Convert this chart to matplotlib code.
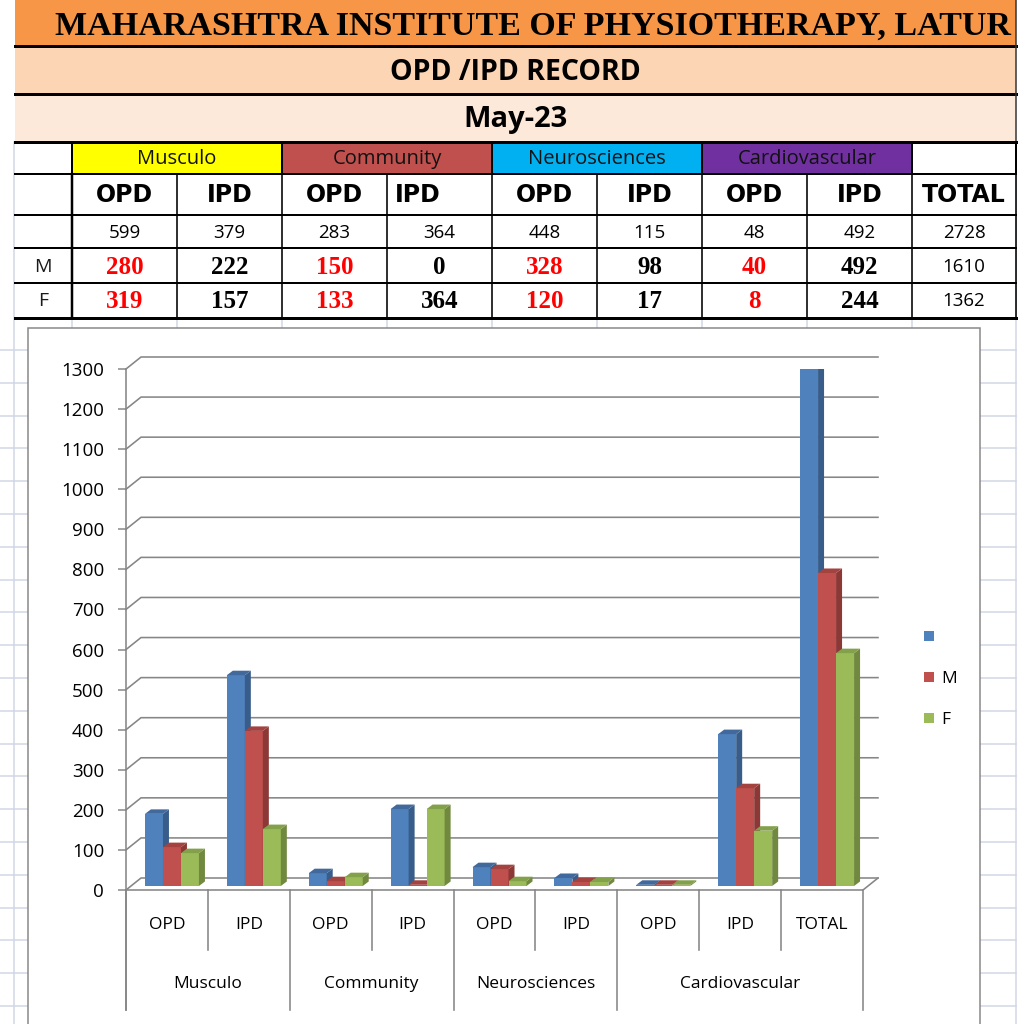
import matplotlib
matplotlib.use('Agg')
import matplotlib.pyplot as plt
from matplotlib.patches import Rectangle, Polygon

# ---------------- data ----------------
title = 'MAHARASHTRA INSTITUTE OF PHYSIOTHERAPY, LATUR'
subtitle = 'OPD /IPD RECORD'
month = 'May-23'
groups = ['Musculo', 'Community', 'Neurosciences', 'Cardiovascular']
group_colors = ['#FFFF00', '#C0504D', '#00B0F0', '#7030A0']
sub_headers = ['OPD', 'IPD', 'OPD', 'IPD', 'OPD', 'IPD', 'OPD', 'IPD', 'TOTAL']
row_labels = ['', 'M', 'F']
row_total = [599, 379, 283, 364, 448, 115, 48, 492, 2728]
row_m = [280, 222, 150, 0, 328, 98, 40, 492, 1610]
row_f = [319, 157, 133, 364, 120, 17, 8, 244, 1362]

chart_groups = ['Musculo', 'Community', 'Neurosciences', 'Cardiovascular']
chart_group_spans = [(0, 1), (2, 3), (4, 5), (6, 8)]
chart_cats = ['OPD', 'IPD', 'OPD', 'IPD', 'OPD', 'IPD', 'OPD', 'IPD', 'TOTAL']
series_names = ['', 'M', 'F']
series_all = [180, 526, 32, 192, 47, 20, 3, 379, 1295]
series_m = [97, 387, 12, 3, 42, 10, 3, 244, 781]
series_f = [82, 142, 22, 192, 12, 10, 3, 138, 581]
y_ticks = list(range(0, 1301, 100))

# ---------------- styles ----------------
plt.rcParams['font.family'] = ['Open Sans', 'DejaVu Sans']
front_cols = ['#4F81BD', '#C0504D', '#9BBB59']
side_cols = ['#385D8A', '#8C3836', '#71893F']
top_cols = ['#41699C', '#A3423F', '#83A04A']
grid_col = '#868686'
sheet_col = '#D0D7E5'

W = H = 1024
PT = 0.72  # points per pixel at dpi 100
fig = plt.figure(figsize=(W / 100, H / 100), dpi=100)
fig.patch.set_facecolor('white')

bg = fig.add_axes([0, 0, 1, 1])
bg.set_xlim(0, W)
bg.set_ylim(H, 0)
bg.axis('off')

# spreadsheet grid in background
y = 350.0
while y < H:
    bg.plot([0, 1016], [y, y], color=sheet_col, lw=1.5 * PT, zorder=0)
    y += 32.8
col_x = [15, 72, 177, 282, 387, 492, 597, 702, 807, 912, 1016]
for x in [14] + col_x[1:]:
    bg.plot([x, x], [142, H], color=sheet_col, lw=1.5 * PT, zorder=0)

# title rows
bands = [(0, 45, '#F79646'), (47, 93, '#FCD5B4'), (95, 141, '#FDE9D9')]
for (y0, y1, c) in bands:
    bg.add_patch(Rectangle((15, y0), 1001, y1 - y0, facecolor=c, edgecolor='none', zorder=1))
for yl in [45.5, 93.5, 141.5]:
    bg.plot([15, 1016], [yl, yl], color='black', lw=3 * PT, zorder=3)
bg.plot([1016, 1016], [0, 141], color='#333333', lw=1.5 * PT, zorder=3)
bg.text(533, 26, title, ha='center', va='center', fontsize=24.5, fontweight='bold',
        family='Liberation Serif', color='black', zorder=4)
bg.text(515, 72, subtitle, ha='center', va='center', fontsize=20.5, fontweight='bold', zorder=4)
bg.text(515, 119, month, ha='center', va='center', fontsize=21, fontweight='bold', zorder=4)

# table
row_y = [142, 174, 215, 248, 283, 318]
bg.add_patch(Rectangle((15, 142), 1001, 176, facecolor='white', edgecolor='none', zorder=1))
for g, (name, c) in enumerate(zip(groups, group_colors)):
    x0 = col_x[1 + 2 * g]
    x1 = col_x[3 + 2 * g]
    bg.add_patch(Rectangle((x0, 142), x1 - x0, 32, facecolor=c, edgecolor='none', zorder=2))
    bg.text((x0 + x1) / 2, 159, name, ha='center', va='center', fontsize=14.5,
            color='#111111', zorder=4)
for k, yl in enumerate(row_y):
    lw = 3 if k in (0, 5) else 2
    bg.plot([15, 1016], [yl, yl], color='black', lw=lw * PT, zorder=3)
for x in [72, 282, 492, 702, 912, 1016]:
    bg.plot([x, x], [142, 174], color='black', lw=2 * PT, zorder=3)
for x in col_x[1:]:
    lw = 2.5 if x == 72 else 1.6
    bg.plot([x, x], [174, 318], color='black', lw=lw * PT, zorder=3)

for i, lab in enumerate(sub_headers):
    cx = (col_x[i + 1] + col_x[i + 2]) / 2
    ha = 'center'
    if i == 3:
        cx = col_x[i + 1] + 8
        ha = 'left'
    bg.text(cx, 195, lab, ha=ha, va='center', fontsize=17, fontweight='bold',
            family='DejaVu Sans', color='black', zorder=4)
    xc = (col_x[i + 1] + col_x[i + 2]) / 2
    bg.text(xc, 233, str(row_total[i]), ha='center', va='center', fontsize=13.5,
            color='black', zorder=4)
    for yy, row in [(267, row_m), (301, row_f)]:
        if i == 8:
            bg.text(xc, yy, str(row[i]), ha='center', va='center', fontsize=13.5,
                    color='black', zorder=4)
        else:
            colr = '#FF0000' if i % 2 == 0 else 'black'
            bg.text(xc, yy, str(row[i]), ha='center', va='center', fontsize=18,
                    fontweight='bold', family='Liberation Serif', color=colr, zorder=4)
for yy, lab in [(233, row_labels[0]), (267, row_labels[1]), (301, row_labels[2])]:
    bg.text(43, yy, lab, ha='center', va='center', fontsize=14, color='#1a1a1a', zorder=4)

# chart frame
bg.add_patch(Rectangle((28, 328), 952, 720, facecolor='white', edgecolor=grid_col,
                       lw=1.5 * PT, zorder=5))

# ---------------- chart ----------------
X0, X1, Y0, Y1 = 126, 863, 890, 369
ax = fig.add_axes([X0 / W, 1 - Y0 / H, (X1 - X0) / W, (Y0 - Y1) / H])
ax.set_zorder(10)
ax.set_xlim(-0.5, 8.5)
ax.set_ylim(0, 1300)
ax.patch.set_visible(False)
for s in ax.spines.values():
    s.set_visible(False)
ax.set_xticks([])
ax.set_yticks(y_ticks)
ax.tick_params(axis='y', length=8 * PT, width=1.5 * PT, color=grid_col, pad=10,
               labelsize=13.5, labelcolor='black')

pxx = (X1 - X0) / 9.0        # pixels per x unit
pxy = (Y0 - Y1) / 1300.0     # pixels per y unit
dx, dy = 15 / pxx, 12 / pxy  # depth of the floor / walls
ox, oy = 5 / pxx, 4 / pxy    # bar front plane offset
bdx, bdy = 6 / pxx, 4.5 / pxy  # bar depth
w = 18 / pxx

line_kw = dict(color=grid_col, lw=1.6 * PT, clip_on=False, zorder=1)
for v in y_ticks:
    ax.plot([-0.5, -0.5 + dx, 8.5 + dx], [v, v + dy, v + dy], **line_kw)
ax.plot([-0.5, 8.5, 8.5 + dx], [0, 0, dy], **line_kw)
ax.plot([-0.5, -0.5], [1300, -120 / pxy], **line_kw)
full = {s[0] for s in chart_group_spans} | {len(chart_cats)}
for k in range(len(chart_cats) + 1):
    low = -120 / pxy if k in full else -60 / pxy
    ax.plot([k - 0.5, k - 0.5], [0, low], **line_kw)
for i, lab in enumerate(chart_cats):
    ax.text(i, -35 / pxy, lab, ha='center', va='center', fontsize=12.5, color='black')
for (a, b), lab in zip(chart_group_spans, chart_groups):
    ax.text((a + b) / 2, -94 / pxy, lab, ha='center', va='center', fontsize=12.5,
            color='black')

series = [series_all, series_m, series_f]
xs = list(range(len(chart_cats)))
for j, vals in enumerate(series):
    xpos = [x + (j - 1) * w + ox for x in xs]
    ax.bar(xpos, vals, width=w, bottom=oy, color=front_cols[j], edgecolor='none',
           zorder=3 + j, label=series_names[j])
    for xc, v in zip(xpos, vals):
        xl, xr = xc - w / 2, xc + w / 2
        top = oy + v
        ax.add_patch(Polygon([(xr, oy), (xr + bdx, oy + bdy), (xr + bdx, top + bdy), (xr, top)],
                             closed=True, facecolor=side_cols[j], edgecolor='none',
                             zorder=3.5 + j))
        ax.add_patch(Polygon([(xl, top), (xr, top), (xr + bdx, top + bdy), (xl + bdx, top + bdy)],
                             closed=True, facecolor=top_cols[j], edgecolor='none',
                             zorder=3.5 + j))

handles = [Rectangle((0, 0), 1, 1, facecolor=c, edgecolor='none') for c in front_cols]
fig.legend(handles, series_names, loc='upper left', bbox_to_anchor=(924 / W, 1 - 630 / H),
           frameon=False, fontsize=12.5, handlelength=0.55, handleheight=0.55,
           handletextpad=0.45, labelspacing=1.45, borderpad=0, borderaxespad=0)

fig.savefig('out.png', dpi=100, facecolor='white')
